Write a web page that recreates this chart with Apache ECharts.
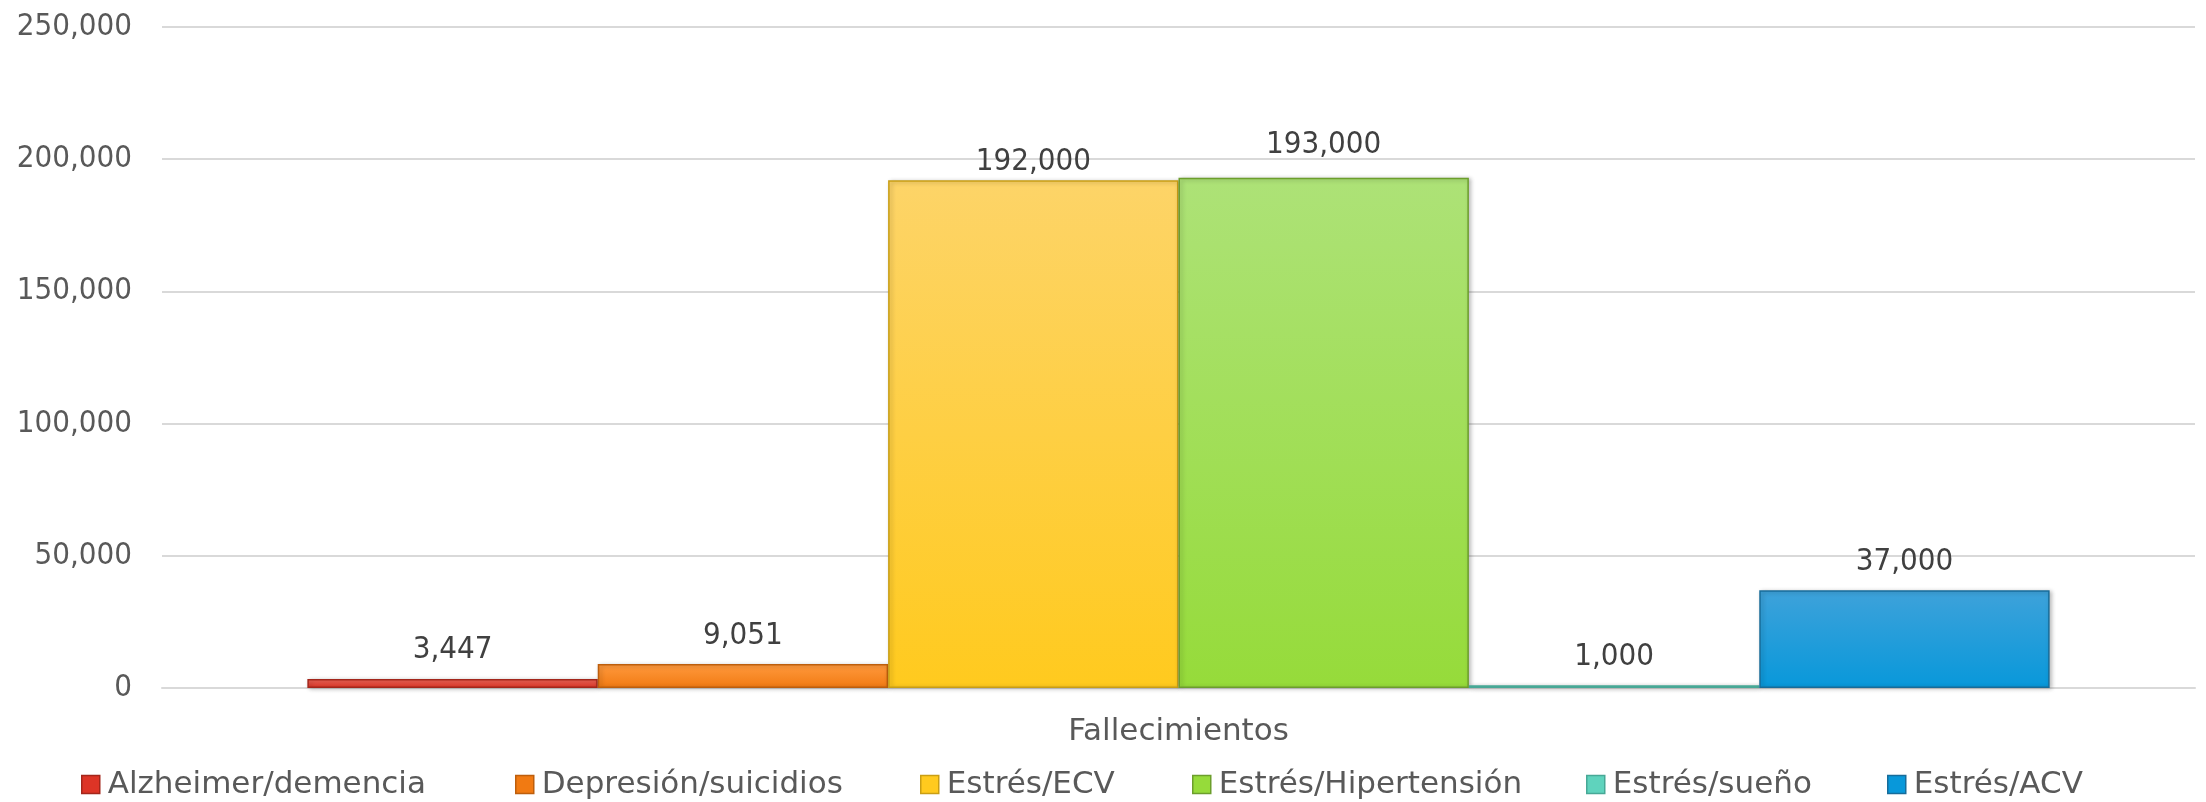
<!DOCTYPE html>
<html>
<head>
<meta charset="utf-8">
<script src="https://cdn.jsdelivr.net/npm/echarts@6/dist/echarts.min.js"></script>
<style>
html,body{margin:0;padding:0;background:#fff;}
#chart{width:2206px;height:802px;}
</style>
</head>
<body>
<div id="chart"></div>
<script>
const categories = ['Fallecimientos'];
const seriesNames = ['Alzheimer/demencia', 'Depresión/suicidios', 'Estrés/ECV', 'Estrés/Hipertensión', 'Estrés/sueño', 'Estrés/ACV'];
const seriesValues = [3447, 9051, 192000, 193000, 1000, 37000];
const yMin = 0, yMax = 250000, yInterval = 50000;

// styling (not data)
const topColors = ['#F0685A', '#FF9A3E', '#FDD468', '#ADE277', '#7ADFCB', '#3EA2DA'];
const botColors = ['#DD3426', '#F17A12', '#FFCA1E', '#96DB3A', '#5FD3BD', '#0898DA'];
const borderColors = ['#A3261B', '#BD5E0C', '#C99E14', '#6C9E2C', '#47A896', '#176C9A'];
const labelDist = [13, 13, 3, 17, 13, 13];
const legendLeft = [81, 515, 920, 1192, 1586, 1887];

const numFont = '"DejaVu Sans Condensed", "DejaVu Sans", Roboto, sans-serif';
const txtFont = '"DejaVu Sans", sans-serif';
const textColor = '#595959';

const chart = echarts.init(document.getElementById('chart'), null, {renderer: 'canvas'});

const fmt = v => Number(v).toLocaleString('en-US');

const series = seriesNames.map((name, i) => ({
  name: name,
  type: 'bar',
  barGap: '0%',
  barCategoryGap: '14.3%',
  data: [seriesValues[i]],
  itemStyle: {
    color: new echarts.graphic.LinearGradient(0, 0, 0, 1, [
      {offset: 0, color: topColors[i]},
      {offset: 1, color: botColors[i]}
    ]),
    borderColor: borderColors[i],
    borderWidth: 1.5,
    shadowColor: 'rgba(0,0,0,0.25)',
    shadowBlur: 4,
    shadowOffsetX: 2,
    shadowOffsetY: 1
  },
  label: {
    show: true,
    position: 'top',
    distance: labelDist[i],
    formatter: p => fmt(p.value),
    fontSize: 31,
    fontFamily: numFont,
    color: '#404040'
  }
}));

const legends = seriesNames.map((name, i) => ({
  data: [name],
  left: legendLeft[i],
  top: 769,
  padding: 0,
  itemWidth: 18,
  itemHeight: 18,
  icon: 'rect',
  selectedMode: false,
  itemStyle: {color: botColors[i], borderColor: borderColors[i], borderWidth: 1.5},
  textStyle: {
    fontSize: 31,
    fontFamily: txtFont,
    color: textColor,
    padding: [0, 0, 0, 3]
  }
}));

chart.setOption({
  animation: false,
  backgroundColor: '#ffffff',
  grid: {left: 162, right: 11, top: 27, bottom: 114, containLabel: false},
  legend: legends,
  xAxis: {
    type: 'category',
    data: categories,
    axisLine: {show: true, lineStyle: {color: '#D9D9D9', width: 2}},
    axisTick: {show: false},
    axisLabel: {fontSize: 31, fontFamily: txtFont, color: textColor, margin: 28}
  },
  yAxis: {
    type: 'value',
    min: yMin,
    max: yMax,
    interval: yInterval,
    axisLine: {show: false},
    axisTick: {show: false},
    splitLine: {lineStyle: {color: '#D9D9D9', width: 2}},
    axisLabel: {
      fontSize: 31,
      fontFamily: numFont,
      color: textColor,
      margin: 30,
      formatter: v => fmt(v)
    }
  },
  series: series
});
</script>
</body>
</html>
